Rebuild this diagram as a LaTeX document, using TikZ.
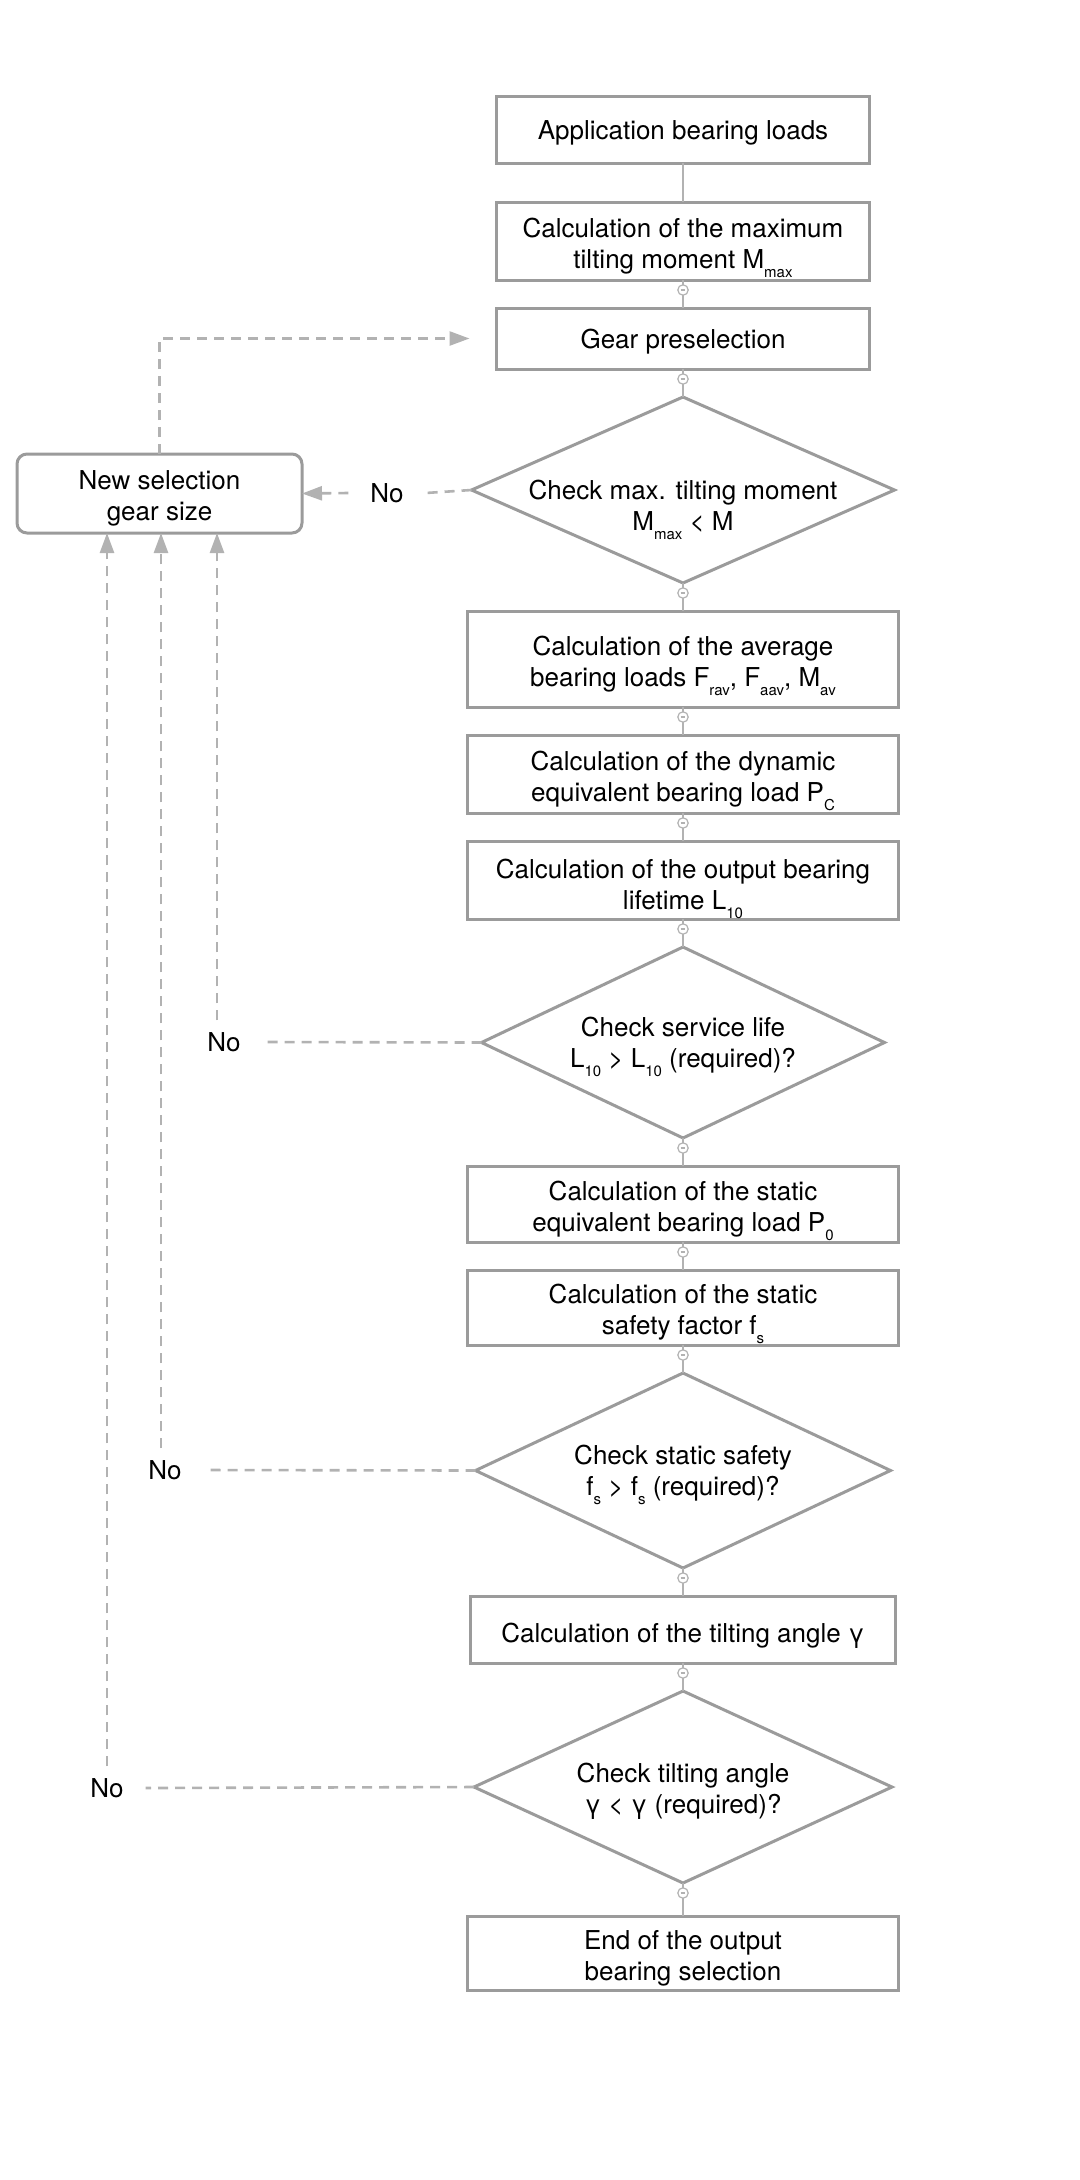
\documentclass[tikz,border=0pt]{standalone}
\usepackage{fontspec}
\setmainfont{TeX Gyre Heros}
\usetikzlibrary{arrows.meta,calc,positioning,shapes.geometric,decorations.markings}
\definecolor{boxgray}{HTML}{9B9B9B}
\definecolor{linegray}{HTML}{B2B2B2}
\newcommand{\lowsub}[1]{\raisebox{-4.5pt}[0pt][0pt]{\fontsize{7.5}{8}\selectfont #1}}
\tikzset{
linelift/.store in=\nodelift,
linelift=30pt,
}
\tikzset{
procbox/.style={
  rectangle,
  line width=1.5pt,
  inner sep=0pt,
  outer sep=0pt,
  align=center,
  draw=boxgray,
  fill=white,
  linelift=30pt,
  execute at begin node={\rule{0pt}{\nodelift}},
  }
}
\tikzset{
checkdia/.style={
  diamond,
  line width=1.5pt,
  inner xsep=-60pt,
  inner ysep=0pt,
  outer sep=0pt,
  align=center,
  draw=boxgray,
  fill=white,
  linelift=28pt,
  execute at begin node={\rule{0pt}{\nodelift}},
  }
}
\tikzset{
nolabel/.style={
  inner xsep=11pt,
  inner ysep=6pt,
  outer sep=0pt,
  }
}
\tikzset{
flowline/.style={
  line width=1pt,
  draw=linegray,
  }
}
\tikzset{
knobline/.style={
  flowline,
  postaction={decorate},
  decoration={markings, mark=at position 5pt with {
    \draw[linegray, line width=0.6pt, fill=white] (0,0) circle (2.6pt);
    \draw[linegray, line width=0.6pt] (0,-1.2pt) -- (0,1.2pt);}},
  }
}
\tikzset{
backline/.style={
  line width=1.3pt,
  draw=linegray,
  dash pattern=on 5pt off 3.5pt,
  }
}
\tikzset{
backarrow/.style={
  backline,
  -{Triangle[length=10pt,width=7pt]},
  }
}

\begin{document}
\begin{tikzpicture}[x=0.5pt,y=-0.5pt,node distance=14pt,font=\fontsize{13}{15.5}\selectfont]
    \useasboundingbox (0,0) rectangle (1080,2180);

    % main column
    \node[procbox, linelift=13pt, minimum width=186.5pt, minimum height=33.5pt] (app) at (683,129.5) {Application bearing loads};
    \node[procbox, minimum width=186.5pt, minimum height=39pt, below=19.5pt of app] (tiltmax) {Calculation of the maximum\\tilting moment M\lowsub{max}};
    \node[procbox, linelift=13pt, minimum width=186.5pt, minimum height=30.5pt, below=of tiltmax] (gear) {Gear preselection};
    \node[checkdia, linelift=41.5pt, minimum width=211.5pt, minimum height=93pt, below=of gear] (chkmax) {Check max. tilting moment\\M\lowsub{max} < M};
    \node[procbox, minimum width=215.5pt, minimum height=48pt, below=of chkmax] (avg) {Calculation of the average\\bearing loads F\lowsub{rav}, F\lowsub{aav}, M\lowsub{av}};
    \node[procbox, minimum width=215.5pt, minimum height=39pt, below=of avg] (dyn) {Calculation of the dynamic\\equivalent bearing load P\lowsub{C}};
    \node[procbox, minimum width=215.5pt, minimum height=39pt, below=of dyn] (life) {Calculation of the output bearing\\lifetime L\lowsub{10}};
    \node[checkdia, minimum width=201.5pt, minimum height=95.5pt, below=of life] (chklife) {Check service life\\L\lowsub{10} > L\lowsub{10} (required)?};
    \node[procbox, minimum width=215.5pt, minimum height=38pt, below=of chklife] (stat) {Calculation of the static\\equivalent bearing load P\lowsub{0}};
    \node[procbox, minimum width=215.5pt, minimum height=37.5pt, below=of stat] (safe) {Calculation of the static\\safety factor f\lowsub{s}};
    \node[checkdia, minimum width=207.5pt, minimum height=97.5pt, below=of safe] (chksafe) {Check static safety\\f\lowsub{s} > f\lowsub{s} (required)?};
    \node[procbox, linelift=16pt, minimum width=212.5pt, minimum height=33.5pt, below=of chksafe] (angle) {Calculation of the tilting angle γ};
    \node[checkdia, linelift=29pt, minimum width=209pt, minimum height=96pt, below=of angle] (chkangle) {Check tilting angle\\γ < γ (required)?};
    \node[procbox, minimum width=215.5pt, minimum height=37pt, below=16.5pt of chkangle] (fin) {End of the output\\bearing selection};

    % new selection part
    \node[procbox, rounded corners=5pt, minimum width=142.5pt, minimum height=39.5pt] (newsel) at (159.5,493.5) {New selection\\gear size};
    \node[nolabel] (no1) at (387,493) {No};
    \node[nolabel] (no2) at (224,1042) {No};
    \node[nolabel] (no3) at (165,1470) {No};
    \node[nolabel] (no4) at (107,1788) {No};

    % flow edges
    \draw[flowline] (app) -- (tiltmax);
    \draw[knobline] (tiltmax) -- (gear);
    \draw[knobline] (gear) -- (chkmax);
    \draw[knobline] (chkmax) -- (avg);
    \draw[knobline] (avg) -- (dyn);
    \draw[knobline] (dyn) -- (life);
    \draw[knobline] (life) -- (chklife);
    \draw[knobline] (chklife) -- (stat);
    \draw[knobline] (stat) -- (safe);
    \draw[knobline] (safe) -- (chksafe);
    \draw[knobline] (chksafe) -- (angle);
    \draw[knobline] (angle) -- (chkangle);
    \draw[knobline] (chkangle) -- (fin);

    % no edges
    \draw[backline] (chkmax.west) -- (no1.east);
    \draw[backarrow] (no1.west) -- (newsel.east);
    \draw[backline] (chklife.west) -- (no2.east);
    \draw[backarrow] ([xshift=-3.5pt]no2.north) -- ([xshift=-3.5pt]no2.north |- newsel.south);
    \draw[backline] (chksafe.west) -- (no3.east);
    \draw[backarrow] ([xshift=-2pt]no3.north) -- ([xshift=-2pt]no3.north |- newsel.south);
    \draw[backline] (chkangle.west) -- (no4.east);
    \draw[backarrow] (no4.north) -- (no4.north |- newsel.south);

    % back to preselection
    \draw[backarrow] (newsel.north) |- ([xshift=-13.5pt]gear.west);
\end{tikzpicture}
\end{document}
